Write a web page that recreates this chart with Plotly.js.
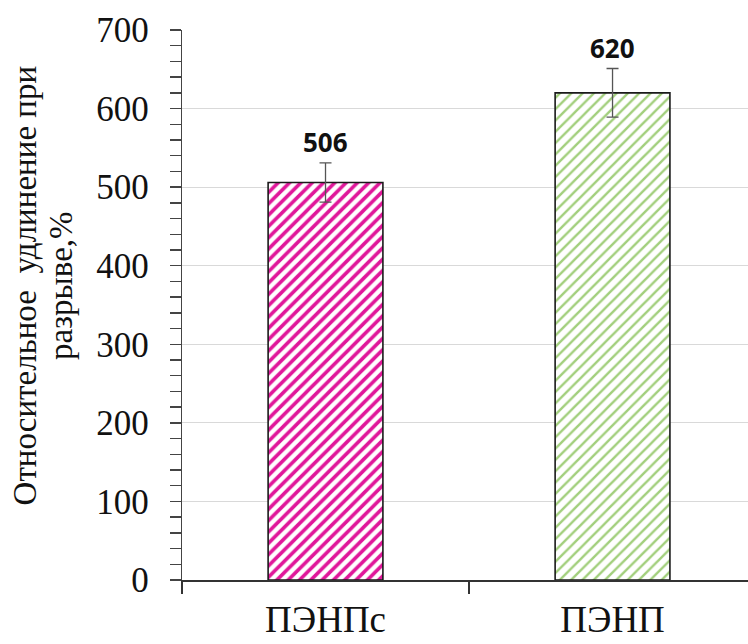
<!DOCTYPE html>
<html>
<head>
<meta charset="utf-8">
<script src="https://cdn.plot.ly/plotly-3.0.1.min.js"></script>
<style>
  html, body { margin: 0; padding: 0; background: #fff; }
  #chart { width: 748px; height: 644px; }
</style>
</head>
<body>
<div id="chart"></div>
<script>
// Elongation at break for the two polyethylene grades
const categories = ['ПЭНПс', 'ПЭНП'];
const elongation = [506, 620];
const errors = [25, 31];
const fillColors = ['#e0179a', '#a2cf7c'];
const valueLabels = ['506', '620'];
const titleLines = ['Относительное  удлинение при', 'разрыве,%'];

const SERIF = 'Liberation Serif';
const SANS = 'Open Sans';

const bars = {
  type: 'bar',
  x: categories,
  y: elongation,
  width: 0.4,
  marker: {
    color: '#ffffff',
    line: { color: '#1a1a1a', width: 1.6 },
    pattern: {
      shape: '/',
      fgcolor: fillColors,
      bgcolor: '#ffffff',
      size: 8,
      solidity: [0.45, 0.3]
    }
  },
  error_y: {
    type: 'data',
    array: errors,
    visible: true,
    color: '#555555',
    thickness: 1.3,
    width: 6
  },
  hoverinfo: 'skip'
};

// value labels above the error bars
const valueNotes = categories.map((c, i) => ({
  x: c,
  y: elongation[i] + errors[i],
  text: '<b>' + valueLabels[i] + '</b>',
  showarrow: false,
  yanchor: 'bottom',
  yshift: 1,
  font: { family: SANS, size: 26, color: '#111111' }
}));

// two-line vertical axis title
const titleNotes = [
  { text: titleLines[0], x: -0.277, y: 0.536 },
  { text: titleLines[1], x: -0.214, y: 0.536 }
].map(t => ({
  text: t.text,
  xref: 'paper', yref: 'paper',
  x: t.x, y: t.y,
  xanchor: 'center', yanchor: 'middle',
  textangle: -90,
  showarrow: false,
  font: { family: SERIF, size: 33, color: '#111111' }
}));

const layout = {
  width: 748,
  height: 644,
  margin: { l: 182, r: 0, t: 30, b: 64 },
  paper_bgcolor: '#ffffff',
  plot_bgcolor: '#ffffff',
  showlegend: false,
  font: { family: SERIF, color: '#111111' },
  xaxis: {
    type: 'category',
    range: [-0.5, 1.472],
    tickson: 'boundaries',
    ticks: 'outside',
    ticklen: 12,
    tickwidth: 1.5,
    tickcolor: '#333333',
    ticklabelstandoff: 6,
    showline: true,
    linecolor: '#333333',
    linewidth: 1.5,
    showgrid: false,
    zeroline: false,
    tickfont: { family: SERIF, size: 37, color: '#111111' }
  },
  yaxis: {
    range: [0, 700],
    dtick: 100,
    ticks: 'outside',
    ticklen: 11,
    tickwidth: 1.3,
    tickcolor: '#444444',
    ticklabelstandoff: 14,
    minor: { dtick: 20, ticks: 'outside', ticklen: 11, tickwidth: 1.3, tickcolor: '#444444', showgrid: false },
    showline: true,
    linecolor: '#444444',
    linewidth: 1.3,
    showgrid: true,
    gridcolor: '#d9d9d9',
    gridwidth: 1,
    zeroline: false,
    tickfont: { family: SERIF, size: 35, color: '#111111' }
  },
  annotations: valueNotes.concat(titleNotes)
};

Plotly.newPlot('chart', [bars], layout, { displayModeBar: false, staticPlot: true });
</script>
</body>
</html>
